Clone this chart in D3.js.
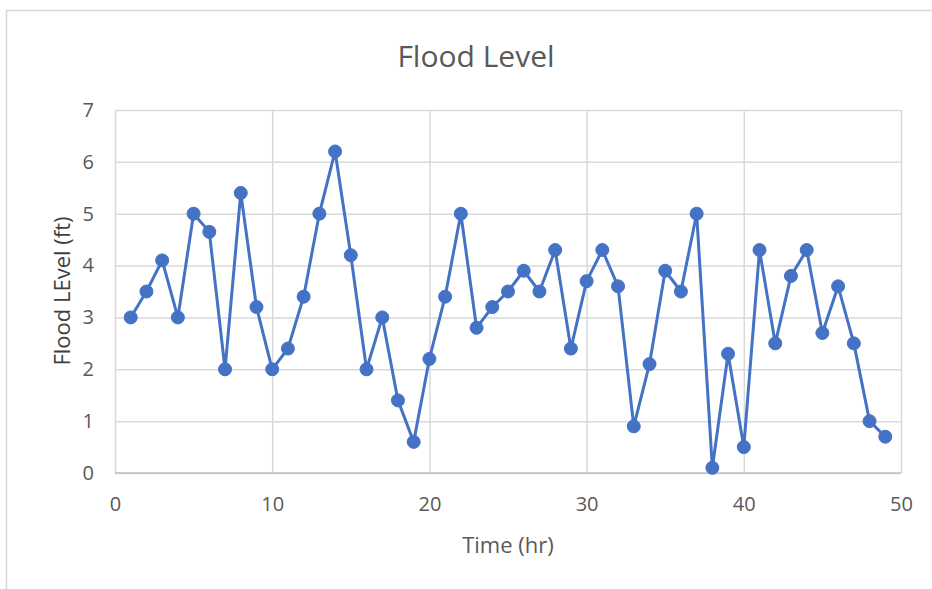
<!DOCTYPE html>
<html>
<head>
<meta charset="utf-8">
<script src="https://cdn.jsdelivr.net/npm/d3@7"></script>
<style>
  html, body { margin: 0; padding: 0; background: #fff; }
  svg { display: block; }
</style>
</head>
<body>
<svg id="chart" width="932" height="589"></svg>
<script>
// Hourly flood level readings
const hours = d3.range(1, 50);
const levels = [3, 3.5, 4.1, 3, 5, 4.65, 2, 5.4, 3.2, 2,
                2.4, 3.4, 5, 6.2, 4.2, 2, 3, 1.4, 0.6, 2.2,
                3.4, 5, 2.8, 3.2, 3.5, 3.9, 3.5, 4.3, 2.4, 3.7,
                4.3, 3.6, 0.9, 2.1, 3.9, 3.5, 5, 0.1, 2.3, 0.5,
                4.3, 2.5, 3.8, 4.3, 2.7, 3.6, 2.5, 1, 0.7];
const xTicks = [0, 10, 20, 30, 40, 50];
const yTicks = [0, 1, 2, 3, 4, 5, 6, 7];

const titleText = "Flood Level";
const xTitle = "Time (hr)";
const yTitle = "Flood LEvel (ft)";

const svg = d3.select("#chart");
const font = "'Open Sans', 'DejaVu Sans', sans-serif";
const grid = "#d9d9d9";
const textCol = "#595959";
const blue = "#4472c4";

// outer chart frame
svg.append("rect")
  .attr("x", 6.5).attr("y", 10.5)
  .attr("width", 940).attr("height", 600)
  .attr("fill", "#fff")
  .attr("stroke", "#d6d6d6").attr("stroke-width", 1.5);

const plot = { left: 115, right: 901, top: 110, bottom: 473 };

const x = d3.scaleLinear().domain([0, 50]).range([plot.left, plot.right]);
const y = d3.scaleLinear().domain([0, 7]).range([plot.bottom, plot.top]);

// horizontal gridlines + y labels
const yAxis = d3.axisLeft(y).tickValues(yTicks).tickFormat(d3.format("d"))
  .tickSize(-(plot.right - plot.left)).tickPadding(21);
const gy = svg.append("g").attr("transform", `translate(${plot.left},0)`).call(yAxis);
gy.select(".domain").remove();
gy.selectAll(".tick line").attr("stroke", grid).attr("stroke-width", 1.5);
gy.selectAll(".tick text").attr("fill", textCol).attr("font-family", font).attr("font-size", 20);

// vertical gridlines + x labels
const xAxis = d3.axisBottom(x).tickValues(xTicks).tickFormat(d3.format("d"))
  .tickSize(-(plot.bottom - plot.top)).tickPadding(24);
const gx = svg.append("g").attr("transform", `translate(0,${plot.bottom})`).call(xAxis);
gx.select(".domain").remove();
gx.selectAll(".tick line").attr("stroke", grid).attr("stroke-width", 1.5);
gx.selectAll(".tick text").attr("fill", textCol).attr("font-family", font).attr("font-size", 20);

// bottom axis line
svg.append("line")
  .attr("x1", plot.left).attr("x2", plot.right)
  .attr("y1", plot.bottom).attr("y2", plot.bottom)
  .attr("stroke", "#bfbfbf").attr("stroke-width", 1.5);

const data = hours.map((h, i) => ({ h, v: levels[i] }));

const line = d3.line().x(d => x(d.h)).y(d => y(d.v));
svg.append("path")
  .datum(data)
  .attr("d", line)
  .attr("fill", "none")
  .attr("stroke", blue)
  .attr("stroke-width", 3)
  .attr("stroke-linejoin", "round");

svg.append("g").selectAll("circle")
  .data(data)
  .join("circle")
  .attr("cx", d => x(d.h))
  .attr("cy", d => y(d.v))
  .attr("r", 6.5)
  .attr("fill", blue)
  .attr("stroke", blue)
  .attr("stroke-width", 1);

// titles
svg.append("text")
  .attr("x", 476).attr("y", 67)
  .attr("text-anchor", "middle")
  .attr("font-family", font).attr("font-size", 30)
  .attr("fill", textCol)
  .text(titleText);

svg.append("text")
  .attr("x", 508).attr("y", 553)
  .attr("text-anchor", "middle")
  .attr("font-family", font).attr("font-size", 22)
  .attr("fill", textCol)
  .text(xTitle);

svg.append("text")
  .attr("transform", "translate(70,291) rotate(-90)")
  .attr("text-anchor", "middle")
  .attr("font-family", font).attr("font-size", 22)
  .attr("fill", "#404040")
  .text(yTitle);
</script>
</body>
</html>
